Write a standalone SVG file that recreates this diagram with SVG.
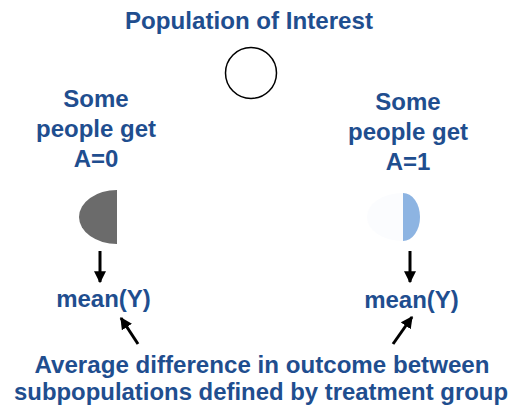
<svg xmlns="http://www.w3.org/2000/svg" width="530" height="408" viewBox="0 0 530 408">
<defs>
<style>
.t{font-family:"Liberation Sans",Arial,sans-serif;font-weight:bold;fill:#1f4e8f;font-size:24px;text-anchor:middle}
.c{stroke:#000;stroke-width:3;fill:none}
</style>
<marker id="ah" viewBox="0 0 10 10" refX="9" refY="5" markerWidth="4" markerHeight="4" orient="auto" markerUnits="strokeWidth">
<path d="M0,0 L10,5 L0,10 Z" fill="#000"/>
</marker>
</defs>
<rect width="530" height="408" fill="#fff"/>
<g id="title"><text class="t" x="249" y="29" textLength="248" lengthAdjust="spacingAndGlyphs">Population of Interest</text></g>
<g id="population"><circle cx="251" cy="73" r="25.5" fill="#fff" stroke="#000" stroke-width="1.5"/></g>
<g id="label-a0">
<text class="t" x="96" y="107">Some</text>
<text class="t" x="96" y="137">people get</text>
<text class="t" x="96" y="167">A=0</text>
</g>
<g id="label-a1">
<text class="t" x="408" y="110">Some</text>
<text class="t" x="408" y="140">people get</text>
<text class="t" x="408" y="170">A=1</text>
</g>
<g id="group-a0"><path d="M117,190 A38,27 0 0 0 117,244 Z" fill="#6b6b6b"/></g>
<g id="group-a1">
<path d="M403,193 A36,24 0 0 0 403,241 Z" fill="#fbfcfe"/>
<path d="M403,193 A17,24 0 0 1 403,241 Z" fill="#8db4e2"/>
</g>
<g id="mean-a0"><text class="t" x="103.5" y="307">mean(Y)</text></g>
<g id="mean-a1"><text class="t" x="411.5" y="308">mean(Y)</text></g>
<g id="difference">
<text class="t" x="262" y="373" textLength="455" lengthAdjust="spacingAndGlyphs">Average difference in outcome between</text>
<text class="t" x="261" y="400" textLength="494" lengthAdjust="spacingAndGlyphs">subpopulations defined by treatment group</text>
</g>
<g id="connectors">
<line class="c" x1="100" y1="251" x2="100" y2="282" marker-end="url(#ah)"/>
<line class="c" x1="410" y1="251" x2="410" y2="282" marker-end="url(#ah)"/>
<line class="c" x1="138" y1="344" x2="121" y2="318" marker-end="url(#ah)"/>
<line class="c" x1="393" y1="344" x2="412" y2="317" marker-end="url(#ah)"/>
</g>
</svg>
